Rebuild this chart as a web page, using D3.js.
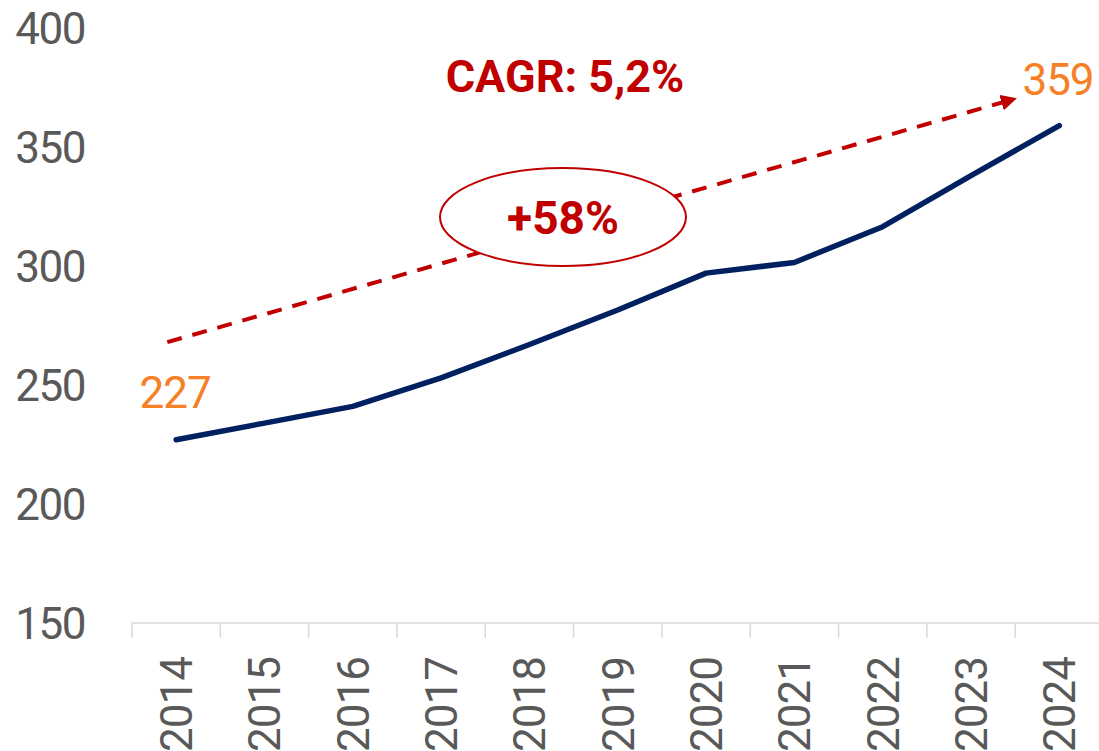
<!DOCTYPE html>
<html>
<head>
<meta charset="utf-8">
<script src="https://cdn.jsdelivr.net/npm/d3@7"></script>
<style>
  html, body { margin: 0; padding: 0; background: #fff; }
  svg { display: block; }
  text { font-family: Roboto, "Noto Sans", sans-serif; }
</style>
</head>
<body>
<svg id="chart" width="1099" height="751"></svg>
<script>
const years = ["2014","2015","2016","2017","2018","2019","2020","2021","2022","2023","2024"];
const values = [227, 234, 241, 253, 267, 281.5, 297, 301.5, 316.5, 338, 359];
const yTicks = [150, 200, 250, 300, 350, 400];
const cagrLabel = "CAGR: 5,2%";
const growthLabel = "+58%";
// annotation arrow in data terms (fractional year index, value)
const arrowStart = { i: -0.1, v: 268 };
const arrowEnd = { i: 9.52, v: 370.5 };
const bubble = { i: 4.38, v: 320.6 };

const svg = d3.select("#chart");

const x = d3.scaleBand().domain(years).range([132, 1103.5]).paddingInner(0).paddingOuter(0);
const xi = d3.scaleLinear().domain([0, years.length - 1])
  .range([x(years[0]) + x.bandwidth() / 2, x(years[years.length - 1]) + x.bandwidth() / 2]);
const y = d3.scaleLinear().domain([150, 400]).range([623, 28]);

// x axis
const xAxis = svg.append("g").attr("transform", "translate(0,623)");
xAxis.append("line").attr("x1", 132).attr("x2", 1103.5).attr("y1", 0).attr("y2", 0)
  .attr("stroke", "#d9d9d9").attr("stroke-width", 1.5);
const tickXs = years.map(d => x(d)).concat([x(years[years.length - 1]) + x.bandwidth()]);
xAxis.selectAll("line.tick").data(tickXs).join("line").attr("class", "tick")
  .attr("x1", d => d).attr("x2", d => d).attr("y1", 0).attr("y2", 15)
  .attr("stroke", "#d9d9d9").attr("stroke-width", 1.5);
xAxis.selectAll("text.lab").data(years).join("text").attr("class", "lab")
  .attr("transform", d => `translate(${x(d) + x.bandwidth() / 2 + 16},34) rotate(-90)`)
  .attr("text-anchor", "end")
  .attr("font-size", 44).attr("fill", "#595959").attr("letter-spacing", -1)
  .text(d => d);

// y axis labels
svg.append("g").selectAll("text").data(yTicks).join("text")
  .attr("x", 85).attr("y", d => y(d) + 16)
  .attr("text-anchor", "end").attr("font-size", 44).attr("fill", "#595959")
  .attr("letter-spacing", -1.5)
  .text(d => d);

// dashed arrow
const defs = svg.append("defs");
defs.append("marker").attr("id", "arr").attr("viewBox", "0 0 10 10")
  .attr("refX", 10).attr("refY", 5).attr("markerWidth", 4).attr("markerHeight", 4)
  .attr("orient", "auto").attr("markerUnits", "strokeWidth")
  .append("path").attr("d", "M0,0 L10,5 L0,10 Z").attr("fill", "#c00000");
svg.append("line")
  .attr("x1", xi(arrowStart.i)).attr("y1", y(arrowStart.v))
  .attr("x2", xi(arrowEnd.i)).attr("y2", y(arrowEnd.v))
  .attr("stroke", "#c00000").attr("stroke-width", 4)
  .attr("stroke-dasharray", "15,11")
  .attr("marker-end", "url(#arr)");

// bubble
svg.append("ellipse").attr("cx", xi(bubble.i)).attr("cy", y(bubble.v))
  .attr("rx", 123).attr("ry", 49)
  .attr("fill", "#fff").attr("stroke", "#c00000").attr("stroke-width", 2);
svg.append("text").attr("x", xi(bubble.i)).attr("y", y(bubble.v) + 17)
  .attr("text-anchor", "middle").attr("font-size", 46).attr("font-weight", "bold")
  .attr("fill", "#c00000").text(growthLabel);

// CAGR text
svg.append("text").attr("x", 565).attr("y", 92)
  .attr("text-anchor", "middle").attr("font-size", 45).attr("font-weight", "bold")
  .attr("fill", "#c00000").text(cagrLabel);

// line
const line = d3.line().x((d, i) => x(years[i]) + x.bandwidth() / 2).y(d => y(d));
svg.append("path").datum(values).attr("d", line)
  .attr("fill", "none").attr("stroke", "#002060").attr("stroke-width", 5.5)
  .attr("stroke-linejoin", "round").attr("stroke-linecap", "round");

// data labels
svg.append("text").attr("x", x(years[0]) + x.bandwidth() / 2 - 1).attr("y", 408)
  .attr("text-anchor", "middle").attr("font-size", 44).attr("fill", "#f58025")
  .attr("letter-spacing", -1)
  .text(values[0]);
svg.append("text").attr("x", 1058).attr("y", 95)
  .attr("text-anchor", "middle").attr("font-size", 44).attr("fill", "#f58025")
  .attr("letter-spacing", -1)
  .text(values[values.length - 1]);
</script>
</body>
</html>
